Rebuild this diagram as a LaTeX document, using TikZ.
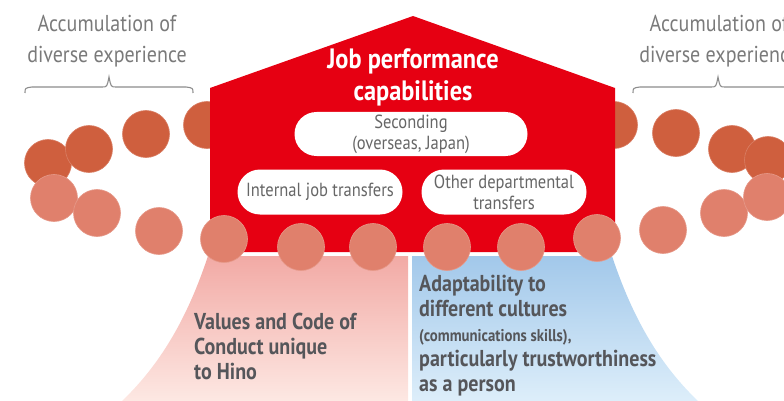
\documentclass[tikz,border=0pt]{standalone}
\usepackage{fontspec}
\setmainfont{PT Sans}[FakeStretch=0.87]
\usetikzlibrary{shapes.misc}
\definecolor{hinored}{HTML}{E60012}
\definecolor{darkdot}{HTML}{CF5F3E}
\definecolor{lightdot}{HTML}{E0806C}
\definecolor{txtgray}{HTML}{55565A}
\definecolor{pillgray}{HTML}{666666}
\definecolor{lblgray}{HTML}{7A7A7A}
\definecolor{bracegray}{HTML}{8C8C8C}
\definecolor{pinktop}{HTML}{F2AAA5}
\definecolor{pinkbot}{HTML}{FDE8E3}
\definecolor{bluetop}{HTML}{A2C8EA}
\definecolor{bluebot}{HTML}{DDEEFA}
\tikzset{
  darkball/.style={circle, fill=darkdot, draw=darkdot!80!white, line width=0.6pt, minimum size=47pt, inner sep=0pt},
  lightball/.style={circle, fill=lightdot, draw=lightdot!80!white, line width=0.6pt, minimum size=47pt, inner sep=0pt},
  pill/.style={rounded rectangle, fill=white, inner sep=0pt, text=pillgray, align=center,
    font=\fontsize{19}{21}\selectfont},
  toplabel/.style={text=lblgray, align=center, inner sep=0pt, font=\fontsize{23}{31}\selectfont},
  basetext/.style={text=txtgray, align=left, inner sep=0pt, anchor=north west, font=\bfseries\fontsize{23}{25}\selectfont},
  bracket/.style={draw=bracegray, line width=1.1pt}
}
\begin{document}
\begin{tikzpicture}[x=1pt,y=-1pt]
\useasboundingbox (0,0) rectangle (784,401);
\clip (0,0) rectangle (784,401);

% upper (dark) row of balls, behind the house
\node[darkball] (d1) at (48,163) {};
\node[darkball] (d2) at (89,149) {};
\node[darkball] (d3) at (146,134) {};
\node[darkball] (d4) at (207,125) {};
\node[darkball] (d5) at (614,125) {};
\node[darkball] (d6) at (676,133) {};
\node[darkball] (d7) at (732,149) {};
\node[darkball] (d8) at (768,160) {};

% house
\coordinate (hl) at (210,252);
\coordinate (hr) at (615,252);
\fill[hinored] (hl) -- (210,88) -- (413,16) -- (615,88) -- (hr) -- cycle;

% pink and blue bases
\shade[top color=pinktop, bottom color=pinkbot]
  (208,256) -- (408,256) -- (408,401) -- (122,401)
  .. controls (165,360) and (190,310) .. (208,256) -- cycle;
\shade[top color=bluetop, bottom color=bluebot]
  (412,256) -- (612,256) .. controls (630,310) and (655,360) .. (698,401)
  -- (412,401) -- cycle;

% title
\node[text=white, align=center, inner sep=0pt, font=\bfseries\fontsize{28}{32}\selectfont]
  (title) at (413,77) {Job performance\\capabilities};

% pills
\node[pill, minimum width=233pt, minimum height=44pt] (sec) at (411,134) {Seconding\\(overseas, Japan)};
\node[pill, minimum width=165pt, minimum height=45pt] (int) at (320,192) {Internal job transfers};
\node[pill, minimum width=165pt, minimum height=45pt] (oth) at (504,192) {Other departmental\\transfers};

% lower (light) row of balls
\node[lightball] (l1) at (54,198) {};
\node[lightball] (l2) at (97,213) {};
\node[lightball] (l3) at (159,231) {};
\node[lightball] (l4) at (224,239) {};
\node[lightball] (l5) at (301,247) {};
\node[lightball] (l6) at (373,247) {};
\node[lightball] (l7) at (447,247) {};
\node[lightball] (l8) at (521,247) {};
\node[lightball] (l9) at (597,238) {};
\node[lightball] (l10) at (663,230) {};
\node[lightball] (l11) at (724,213) {};
\node[lightball] (l12) at (767,197) {};

% top labels and brackets
\node[toplabel] (accL) at (107,41) {Accumulation of\\diverse experience};
\node[toplabel] (accR) at (719,41) {Accumulation of\\diverse experience};
\draw[bracket] (25,93) .. controls (25,88) .. (32,87) -- (102,87)
  .. controls (107,87) .. (109,77) .. controls (111,87) .. (116,87)
  -- (186,87) .. controls (193,88) .. (193,93);
\draw[bracket] (633,93) .. controls (633,88) .. (640,87) -- (711,87)
  .. controls (716,87) .. (718,77) .. controls (720,87) .. (725,87)
  -- (795,87) .. controls (802,88) .. (802,93);

% base texts
\node[basetext] (values) at (194,313) {Values and Code of\\Conduct unique\\to Hino};
\node[basetext] (adapt) at (419,275) {Adaptability to\\different cultures\\
  {\fontsize{17}{22}\selectfont (communications skills),}\\particularly trustworthiness\\as a person};
\end{tikzpicture}
\end{document}
